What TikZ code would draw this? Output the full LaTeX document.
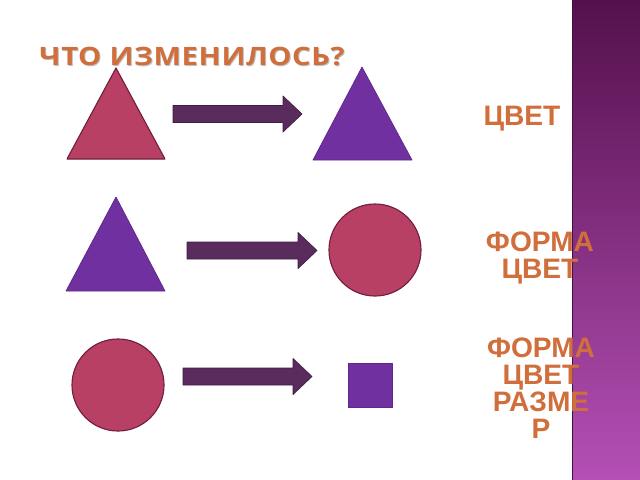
\documentclass[tikz,border=0pt]{standalone}
\usepackage{fontspec}
\newfontfamily\titelschrift[FakeStretch=1.15,LetterSpace=2.5]{Open Sans}
\newfontfamily\etikettschrift{Liberation Sans}
\usetikzlibrary{calc}
\definecolor{rot}{RGB}{184,64,100}
\definecolor{rotrand}{RGB}{115,30,62}
\definecolor{lila}{RGB}{112,48,160}
\definecolor{lilarand}{RGB}{96,38,140}
\definecolor{pfeilfarbe}{RGB}{90,44,94}
\definecolor{pfeilrand}{RGB}{66,28,70}
\definecolor{schrift}{RGB}{208,110,60}
\definecolor{balkenoben}{RGB}{84,16,76}
\definecolor{balkenunten}{RGB}{180,80,182}
\tikzset{
  every picture/.style={x=0.025cm, y=-0.025cm, line join=round},
  % Formen
  rotform/.style={fill=rot, draw=rotrand, line width=0.8pt},
  lilaform/.style={fill=lila, draw=lilarand, line width=0.5pt},
  kreis/.style={circle, minimum size=2.3cm, inner sep=0pt},
  quadrat/.style={rectangle, minimum size=1.1cm, inner sep=0pt},
  % Blockpfeile
  pfeil/.style={fill=pfeilfarbe, draw=pfeilrand, line width=0.5pt},
  % Beschriftung
  titel/.style={schrift, font=\titelschrift\bfseries\fontsize{18}{20}\selectfont, inner sep=0pt},
  etikett/.style={schrift, font=\etikettschrift\bfseries\fontsize{20}{19.1}\selectfont,
    align=center, inner sep=0pt},
}
% Blockpfeil von #1 nach #2 (waagrecht)
\newcommand{\blockpfeil}[2]{%
  \filldraw[pfeil] ($(#1)+(0,-8.5)$) -- ($(#2)+(-19,-8.5)$) -- ($(#2)+(-19,-18)$) -- (#2)
    -- ($(#2)+(-19,18)$) -- ($(#2)+(-19,8.5)$) -- ($(#1)+(0,8.5)$) -- cycle;}
\begin{document}
\begin{tikzpicture}
  \fill[white] (0,0) rectangle (640,480);
  \useasboundingbox (0,0) rectangle (640,480);
  % Balken rechts
  \shade[top color=balkenoben, bottom color=balkenunten] (572,0) rectangle (640,480);
  \draw[balkenoben!85!black, line width=0.6pt] (572,0) -- (572,480);
  % Titel
  \node[titel, black!25, anchor=base] at (193,66) {ЧТО ИЗМЕНИЛОСЬ?};
  \node[titel, anchor=base] (titel) at (192,65) {ЧТО ИЗМЕНИЛОСЬ?};
  % Zeile 1
  \filldraw[rotform] (67,159) -- (165,159) -- (116,68) -- cycle;
  \filldraw[lilaform] (313,160) -- (412,160) -- (362,67) -- cycle;
  \coordinate (p1a) at (173,114);
  \coordinate (p1b) at (302,114);
  \blockpfeil{p1a}{p1b}
  % Zeile 2
  \filldraw[lilaform] (66,291) -- (165,291) -- (116,197) -- cycle;
  \node[kreis, rotform] (kreis2) at (375,250) {};
  \coordinate (p2a) at (187,250.5);
  \coordinate (p2b) at (317,250.5);
  \blockpfeil{p2a}{p2b}
  % Zeile 3
  \node[kreis, rotform] (kreis3) at (118,385) {};
  \node[quadrat, lilaform] (quadrat3) at (370,385.5) {};
  \coordinate (p3a) at (183,376.5);
  \coordinate (p3b) at (312,376.5);
  \blockpfeil{p3a}{p3b}
  % Was hat sich geaendert (base = letzte Zeile)
  \node[etikett, anchor=base] (e1) at (522,125) {ЦВЕТ};
  \node[etikett, anchor=base] (e2) at (540,278) {ФОРМА\\ЦВЕТ};
  \node[etikett, anchor=base] (e3) at (541,438) {ФОРМА\\ЦВЕТ\\РАЗМЕ\\Р};
\end{tikzpicture}
\end{document}
